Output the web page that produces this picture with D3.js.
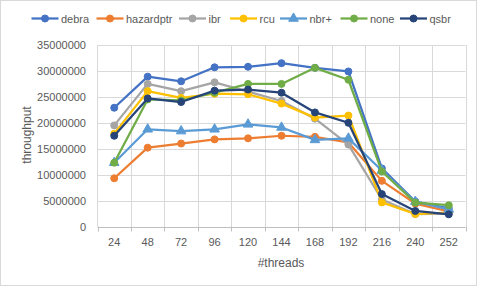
<!DOCTYPE html>
<html>
<head>
<meta charset="utf-8">
<script src="https://cdn.jsdelivr.net/npm/d3@7"></script>
<style>
  body { margin: 0; background: #fff; }
  text { font-family: "Liberation Sans", Arial, sans-serif; fill: #595959; }
</style>
</head>
<body>
<div id="chart-area"></div>
<script>
let width = 480,
    height = 288;

// data
let threads = ["24", "48", "72", "96", "120", "144", "168", "192", "216", "240", "252"];
let names = ["debra", "hazardptr", "ibr", "rcu", "nbr+", "none", "qsbr"];
let colors = ["#4472C4", "#ED7D31", "#A5A5A5", "#FFC000", "#5B9BD5", "#70AD47", "#264478"];

let debra     = [22900000, 28900000, 28000000, 30700000, 30800000, 31500000, 30600000, 29900000, 11200000, 4800000, 3500000];
let hazardptr = [9300000, 15200000, 16000000, 16800000, 17000000, 17500000, 17300000, 16200000, 8800000, 4400000, 2900000];
let ibr       = [19500000, 27500000, 26100000, 27800000, 26000000, 24200000, 20800000, 15800000, 5200000, 2400000, 2500000];
let rcu       = [17900000, 26100000, 24800000, 25600000, 25500000, 23700000, 21000000, 21400000, 4650000, 2400000, 2700000];
let nbrplus   = [12300000, 18750000, 18400000, 18750000, 19700000, 19100000, 16700000, 17000000, 10800000, 4800000, 3300000];
let none      = [12300000, 24500000, 24300000, 25800000, 27500000, 27500000, 30600000, 28300000, 10600000, 4600000, 4100000];
let qsbr      = [17500000, 24700000, 24000000, 26200000, 26400000, 25800000, 22000000, 20000000, 6250000, 3000000, 2350000];

let yTicks = [0, 5000000, 10000000, 15000000, 20000000, 25000000, 30000000, 35000000];

let series = [debra, hazardptr, ibr, rcu, nbrplus, none, qsbr];

let svg = d3.select("#chart-area").append("svg")
    .attr("width", width)
    .attr("height", height);

// outer border
svg.append("rect")
    .attr("x", 0.5).attr("y", 0.5)
    .attr("width", 476).attr("height", 285)
    .attr("fill", "#fff")
    .attr("stroke", "#d9d9d9");

let plotLeft = 97.5, plotRight = 465.5, plotTop = 45, plotBottom = 226.5;

let x = d3.scaleBand()
    .domain(threads)
    .range([plotLeft, plotRight]);

let y = d3.scaleLinear()
    .domain([0, 35000000])
    .range([plotBottom, plotTop]);

// horizontal gridlines
svg.selectAll(".hgrid")
    .data(yTicks.slice(1))
    .enter()
    .append("line")
    .attr("x1", plotLeft).attr("x2", plotRight)
    .attr("y1", d => Math.round(y(d)) + 0.5)
    .attr("y2", d => Math.round(y(d)) + 0.5)
    .attr("stroke", "#d9d9d9");

// vertical gridlines between categories
let bounds = threads.map(t => x(t)).concat([plotRight]);
svg.selectAll(".vgrid")
    .data(bounds.slice(1))
    .enter()
    .append("line")
    .attr("x1", d => Math.round(d) + 0.5).attr("x2", d => Math.round(d) + 0.5)
    .attr("y1", plotTop).attr("y2", plotBottom)
    .attr("stroke", "#d9d9d9");

// axis lines
svg.append("line")
    .attr("x1", plotLeft).attr("x2", plotLeft)
    .attr("y1", plotTop).attr("y2", plotBottom)
    .attr("stroke", "#d9d9d9");

svg.append("line")
    .attr("x1", plotLeft).attr("x2", plotRight)
    .attr("y1", Math.round(plotBottom) + 0.5).attr("y2", Math.round(plotBottom) + 0.5)
    .attr("stroke", "#bfbfbf");

// category ticks below the axis
svg.selectAll(".xtick")
    .data(bounds)
    .enter()
    .append("line")
    .attr("x1", d => Math.round(d) + 0.5).attr("x2", d => Math.round(d) + 0.5)
    .attr("y1", plotBottom).attr("y2", plotBottom + 5)
    .attr("stroke", "#bfbfbf");

// y tick labels
svg.selectAll(".ylab")
    .data(yTicks)
    .enter()
    .append("text")
    .attr("x", 86)
    .attr("y", d => y(d) + 4)
    .attr("text-anchor", "end")
    .attr("font-size", "11px")
    .text(d => d);

// x tick labels
svg.selectAll(".xlab")
    .data(threads)
    .enter()
    .append("text")
    .attr("x", d => x(d) + x.bandwidth() / 2)
    .attr("y", 246)
    .attr("text-anchor", "middle")
    .attr("font-size", "11px")
    .text(d => d);

// axis titles
svg.append("text")
    .attr("x", 281).attr("y", 267)
    .attr("text-anchor", "middle")
    .attr("font-size", "12px")
    .text("#threads");

svg.append("text")
    .attr("transform", "translate(31,135) rotate(-90)")
    .attr("text-anchor", "middle")
    .attr("font-size", "12px")
    .text("throughput");

let line = d3.line()
    .x((d, i) => x(threads[i]) + x.bandwidth() / 2)
    .y(d => y(d));

let tri = d3.symbol().type(d3.symbolTriangle).size(40);

function marker(g, name, color, cx, cy) {
    if (name === "nbr+") {
        g.append("path")
            .attr("d", tri)
            .attr("transform", "translate(" + cx + "," + cy + ")")
            .attr("fill", color)
            .attr("stroke", color);
    } else {
        g.append("circle")
            .attr("cx", cx).attr("cy", cy)
            .attr("r", 3.5)
            .attr("fill", color)
            .attr("stroke", color);
    }
}

series.forEach((values, k) => {
    let g = svg.append("g");
    g.append("path")
        .datum(values)
        .attr("d", line)
        .attr("fill", "none")
        .attr("stroke", colors[k])
        .attr("stroke-width", 2.25)
        .attr("stroke-linejoin", "round");
    values.forEach((v, i) => {
        marker(g, names[k], colors[k], x(threads[i]) + x.bandwidth() / 2, y(v));
    });
});

// legend
let legendX = [31.5, 96.5, 179, 230, 280, 340.5, 400];
let ly = 18.5;
names.forEach((name, k) => {
    let g = svg.append("g");
    g.append("line")
        .attr("x1", legendX[k]).attr("x2", legendX[k] + 27)
        .attr("y1", ly).attr("y2", ly)
        .attr("stroke", colors[k])
        .attr("stroke-width", 2.25);
    marker(g, name, colors[k], legendX[k] + 13.5, ly);
    g.append("text")
        .attr("x", legendX[k] + 29.5)
        .attr("y", ly + 4)
        .attr("font-size", "11px")
        .text(name);
});
</script>
</body>
</html>
